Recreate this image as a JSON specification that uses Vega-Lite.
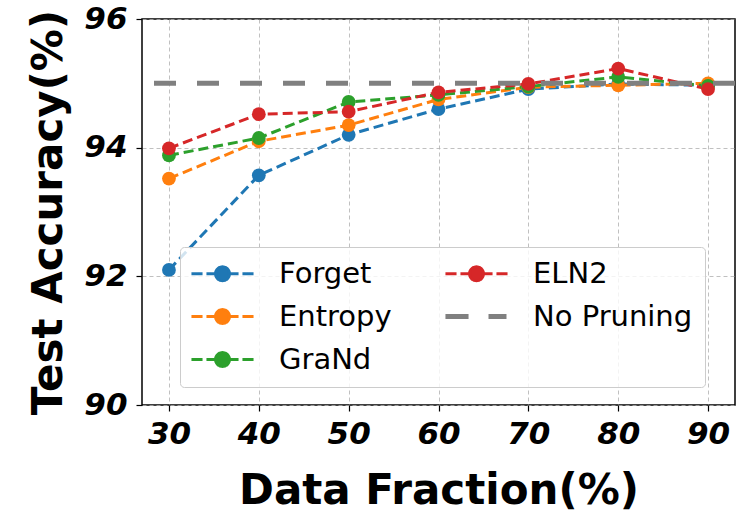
{
  "$schema": "https://vega.github.io/schema/vega-lite/v6.json",
  "width": 593,
  "height": 386,
  "autosize": {"type": "none"},
  "padding": {"left": 142, "top": 19, "right": 16, "bottom": 110},
  "background": "white",
  "config": {
    "view": {"stroke": "black", "strokeWidth": 1.5},
    "axis": {
      "domain": false,
      "grid": true,
      "gridColor": "#b0b0b0",
      "gridDash": [4, 3],
      "gridWidth": 0.8,
      "tickColor": "black",
      "tickSize": 6,
      "tickWidth": 1.2,
      "format": "d",
      "labelFont": "DejaVu Sans",
      "labelFontWeight": "bold",
      "labelFontStyle": "italic",
      "labelFontSize": 31,
      "labelColor": "black",
      "titleFont": "DejaVu Sans",
      "titleFontWeight": "bold",
      "titleFontSize": 42,
      "titleColor": "black"
    }
  },
  "data": {
    "values": [
      {"frac": 30, "series": "Forget", "acc": 92.10},
      {"frac": 40, "series": "Forget", "acc": 93.57},
      {"frac": 50, "series": "Forget", "acc": 94.20},
      {"frac": 60, "series": "Forget", "acc": 94.60},
      {"frac": 70, "series": "Forget", "acc": 94.91},
      {"frac": 80, "series": "Forget", "acc": 94.99},
      {"frac": 90, "series": "Forget", "acc": 94.97},
      {"frac": 30, "series": "Entropy", "acc": 93.52},
      {"frac": 40, "series": "Entropy", "acc": 94.10},
      {"frac": 50, "series": "Entropy", "acc": 94.35},
      {"frac": 60, "series": "Entropy", "acc": 94.75},
      {"frac": 70, "series": "Entropy", "acc": 94.94},
      {"frac": 80, "series": "Entropy", "acc": 94.97},
      {"frac": 90, "series": "Entropy", "acc": 95.00},
      {"frac": 30, "series": "GraNd", "acc": 93.88},
      {"frac": 40, "series": "GraNd", "acc": 94.15},
      {"frac": 50, "series": "GraNd", "acc": 94.71},
      {"frac": 60, "series": "GraNd", "acc": 94.82},
      {"frac": 70, "series": "GraNd", "acc": 94.95},
      {"frac": 80, "series": "GraNd", "acc": 95.10},
      {"frac": 90, "series": "GraNd", "acc": 94.96},
      {"frac": 30, "series": "ELN2", "acc": 93.99},
      {"frac": 40, "series": "ELN2", "acc": 94.52},
      {"frac": 50, "series": "ELN2", "acc": 94.56},
      {"frac": 60, "series": "ELN2", "acc": 94.86},
      {"frac": 70, "series": "ELN2", "acc": 94.99},
      {"frac": 80, "series": "ELN2", "acc": 95.23},
      {"frac": 90, "series": "ELN2", "acc": 94.91},
      {"series": "No Pruning", "acc": 95.0}
    ]
  },
  "layer": [
    {
      "transform": [{"filter": "datum.series !== 'No Pruning'"}],
      "mark": {"type": "line", "strokeDash": [10, 5], "strokeWidth": 3},
      "encoding": {
        "x": {
          "field": "frac", "type": "quantitative",
          "scale": {"domain": [27, 93], "nice": false, "zero": false},
          "axis": {"values": [30, 40, 50, 60, 70, 80, 90], "title": "Data Fraction(%)", "labelPadding": 8, "titlePadding": 21}
        },
        "y": {
          "field": "acc", "type": "quantitative",
          "scale": {"domain": [90, 96], "nice": false, "zero": false},
          "axis": {"values": [90, 92, 94, 96], "title": "Test Accuracy(%)", "labelPadding": 9, "titlePadding": 13}
        },
        "color": {"field": "series", "type": "nominal"}
      }
    },
    {
      "transform": [{"filter": "datum.series !== 'No Pruning'"}],
      "mark": {"type": "point", "filled": true, "opacity": 1, "size": 190, "shape": "circle"},
      "encoding": {
        "x": {"field": "frac", "type": "quantitative"},
        "y": {"field": "acc", "type": "quantitative"},
        "color": {"field": "series", "type": "nominal"}
      }
    },
    {
      "transform": [{"filter": "datum.series === 'No Pruning'"}],
      "mark": {"type": "rule", "strokeDash": [22, 21], "strokeWidth": 5},
      "encoding": {
        "y": {"field": "acc", "type": "quantitative"},
        "color": {
          "field": "series", "type": "nominal",
          "scale": {
            "domain": ["Forget", "Entropy", "GraNd", "ELN2", "No Pruning"],
            "range": ["#1f77b4", "#ff7f0e", "#2ca02c", "#d62728", "#808080"]
          },
          "legend": {
            "title": null,
            "orient": "none",
            "legendX": 38,
            "legendY": 228,
            "columns": 2,
            "columnPadding": 43,
            "rowPadding": 13,
            "padding": 12,
            "fillColor": "rgba(255,255,255,0.8)",
            "strokeColor": "#cccccc",
            "cornerRadius": 4,
            "symbolSize": 900,
            "symbolOffset": 16,
            "labelOffset": 42,
            "labelFont": "DejaVu Sans",
            "labelFontSize": 29,
            "labelColor": "black",
            "labelLimit": 300,
            "symbolType": "M-2.07,0L-1.33,0M-1.07,0L-0.33,0M0.33,0L1.07,0M1.33,0L2.07,0M0.47,0A0.47,0.47,0,1,1,-0.47,0A0.47,0.47,0,1,1,0.47,0Z",
            "encoding": {
              "symbols": {
                "shape": {"value": {"expr": "datum.value === 'No Pruning' ? 'M-2.07,0L-0.53,0M0.8,0L2,0' : 'M-2.07,0L-1.33,0M-1.07,0L-0.33,0M0.33,0L1.07,0M1.33,0L2.07,0M0.47,0A0.47,0.47,0,1,1,-0.47,0A0.47,0.47,0,1,1,0.47,0Z'"}},
                "fill": {"value": {"expr": "scale('color', datum.value)"}},
                "stroke": {"value": {"expr": "scale('color', datum.value)"}},
                "strokeWidth": {"value": {"expr": "datum.value === 'No Pruning' ? 5 : 2.8"}},
                "strokeDash": {"value": [1, 0]},
                "opacity": {"value": 1}
              }
            }
          }
        }
      }
    }
  ]
}
